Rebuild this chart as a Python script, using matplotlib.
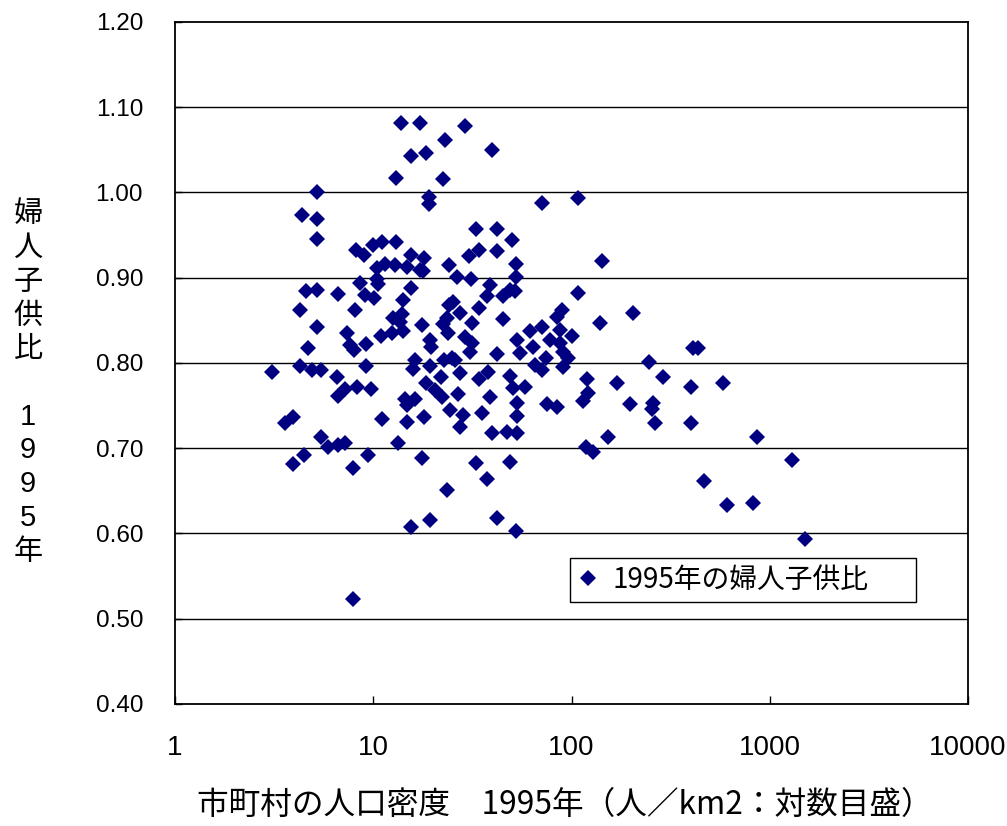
import numpy as np
import matplotlib
matplotlib.use("Agg")
import matplotlib.pyplot as plt

# 市町村の人口密度 (人/km2) と婦人子供比, 1995年
density = [
    13.8, 17.2, 23.0, 15.5, 18.4, 13.0, 22.5, 5.20, 19.1, 19.1,
    4.37, 5.20, 5.20, 8.18, 8.98, 9.96, 11.1, 13.0, 15.5, 18.0,
    10.4, 11.5, 12.9, 14.8, 17.2, 17.8, 24.1, 10.4, 10.6, 8.57,
    15.5, 4.58, 5.20, 6.64, 9.08, 10.1, 14.1, 4.27, 8.08, 12.6,
    14.0, 13.6, 5.20, 7.37, 10.9, 12.4, 14.1, 17.6, 22.5, 24.1,
    4.69, 7.63, 7.99, 9.19, 19.3, 19.5, 4.27, 3.08, 4.91, 5.45,
    9.19, 16.2, 15.9, 19.3, 22.7, 6.56, 7.20, 6.64, 8.27, 9.73,
    18.4, 21.9, 20.5, 22.2, 14.5, 16.2, 14.8, 3.94, 3.59, 11.1,
    14.8, 18.0, 24.4, 5.45, 5.91, 6.64, 7.20, 13.3, 4.47, 3.94,
    9.40, 7.90, 17.6, 23.5, 19.3, 15.5, 7.90, 29.0, 39.7, 70.9,
    108, 33.0, 42.1, 50.0, 34.1, 30.4, 42.1, 52.4, 142, 26.4,
    31.1, 52.4, 38.8, 51.8, 48.9, 37.4, 45.1, 108, 25.2, 27.4,
    23.5, 23.8, 34.1, 31.5, 45.1, 89.5, 84.4, 204, 139, 61.7,
    70.9, 87.4, 100.5, 29.0, 31.5, 30.7, 53.1, 63.9, 77.8, 87.4,
    90.5, 95.9, 54.9, 42.1, 24.9, 25.8, 74.3, 65.4, 70.9, 90.5,
    27.4, 37.9, 34.1, 48.9, 120, 169, 50.6, 58.2, 26.7, 38.8,
    121, 114, 53.1, 75.2, 84.4, 197, 28.3, 27.4, 35.3, 53.1,
    39.7, 47.2, 53.1, 153, 118, 128, 33.0, 48.9, 37.4, 42.1,
    52.4, 246, 409, 434, 289, 400, 580, 257, 254, 264,
    400, 861, 1292, 465, 608, 822, 1503,
]
ratio = [
    1.081, 1.081, 1.061, 1.043, 1.046, 1.017, 1.016, 1.000, 0.995, 0.987,
    0.973, 0.969, 0.946, 0.932, 0.927, 0.938, 0.942, 0.942, 0.927, 0.923,
    0.911, 0.916, 0.915, 0.913, 0.909, 0.908, 0.915, 0.898, 0.893, 0.894,
    0.888, 0.885, 0.886, 0.881, 0.880, 0.876, 0.874, 0.862, 0.862, 0.853,
    0.857, 0.848, 0.842, 0.835, 0.832, 0.835, 0.837, 0.845, 0.846, 0.868,
    0.817, 0.821, 0.815, 0.822, 0.827, 0.819, 0.797, 0.790, 0.792, 0.792,
    0.797, 0.803, 0.793, 0.797, 0.803, 0.783, 0.770, 0.761, 0.772, 0.770,
    0.777, 0.784, 0.768, 0.760, 0.758, 0.758, 0.751, 0.737, 0.730, 0.734,
    0.731, 0.737, 0.745, 0.713, 0.701, 0.704, 0.706, 0.706, 0.692, 0.681,
    0.692, 0.677, 0.689, 0.651, 0.616, 0.608, 0.523, 1.078, 1.050, 0.988,
    0.993, 0.957, 0.957, 0.944, 0.932, 0.925, 0.931, 0.916, 0.920, 0.901,
    0.899, 0.901, 0.892, 0.885, 0.886, 0.878, 0.879, 0.882, 0.872, 0.859,
    0.853, 0.835, 0.865, 0.847, 0.852, 0.862, 0.854, 0.859, 0.847, 0.837,
    0.842, 0.839, 0.832, 0.831, 0.824, 0.813, 0.827, 0.819, 0.827, 0.824,
    0.813, 0.806, 0.812, 0.810, 0.806, 0.804, 0.806, 0.798, 0.792, 0.795,
    0.788, 0.790, 0.781, 0.785, 0.781, 0.777, 0.771, 0.772, 0.764, 0.760,
    0.765, 0.755, 0.753, 0.752, 0.748, 0.752, 0.739, 0.725, 0.741, 0.738,
    0.718, 0.719, 0.718, 0.713, 0.701, 0.696, 0.683, 0.684, 0.664, 0.618,
    0.603, 0.801, 0.818, 0.818, 0.783, 0.772, 0.777, 0.753, 0.746, 0.730,
    0.730, 0.713, 0.686, 0.662, 0.633, 0.636, 0.593,
]

x_ticks = [1, 10, 100, 1000, 10000]
x_labels = ["1", "10", "100", "1000", "10000"]
y_ticks = [0.40, 0.50, 0.60, 0.70, 0.80, 0.90, 1.00, 1.10, 1.20]

navy = "#000080"
jp = "Noto Sans CJK JP"

fig = plt.figure(figsize=(10.07, 8.26), dpi=100)
ax = fig.add_axes([0.1738, 0.1477, 0.7875, 0.8257])

ax.plot(density, ratio, ls="none", marker="D", markersize=8.3,
        color=navy, markeredgewidth=0, label="1995年の婦人子供比", zorder=3)

ax.set_xscale("log")
ax.set_xlim(1, 10000)
ax.set_ylim(0.40, 1.20)
ax.set_xticks(x_ticks)
ax.set_xticklabels(x_labels, family=["Liberation Sans Narrow", "Liberation Sans"], fontsize=20)
ax.xaxis.set_minor_locator(matplotlib.ticker.NullLocator())
ax.set_yticks(y_ticks)
ax.set_yticklabels([f"{v:.2f}" for v in y_ticks], family="Liberation Sans", fontsize=17.5)

ax.tick_params(axis="x", direction="in", length=6, width=1, pad=22)
ax.tick_params(axis="y", direction="in", length=5, width=1, pad=23)

# horizontal grid only
for v in y_ticks[1:-1]:
    ax.axhline(v, color="black", lw=1.0, zorder=1)
for s in ax.spines.values():
    s.set_linewidth(1.3)
    s.set_color("black")

leg = ax.legend(loc="lower left", bbox_to_anchor=(0.498, 0.150, 0.436, 0.058),
                mode="expand", borderaxespad=0, fancybox=False, framealpha=1,
                edgecolor="black", handlelength=0.8, handletextpad=0.5,
                borderpad=0.25, handleheight=0.7,
                prop={"family": ["Liberation Sans Narrow", jp], "size": 20})
leg.get_frame().set_linewidth(1.0)

fig.text(28 / 1007, 1 - 383 / 826, "婦\n人\n子\n供\n比\n\n1\n9\n9\n5\n年",
         ha="center", va="center", ma="center", fontsize=21, linespacing=1.26,
         family=["Liberation Sans", jp])
fig.text(565 / 1007, 1 - 805 / 826, "市町村の人口密度　1995年（人／km2：対数目盛）",
         ha="center", va="center", fontsize=22.8,
         family=["Liberation Sans Narrow", jp])

fig.savefig("out.png", dpi=100)
